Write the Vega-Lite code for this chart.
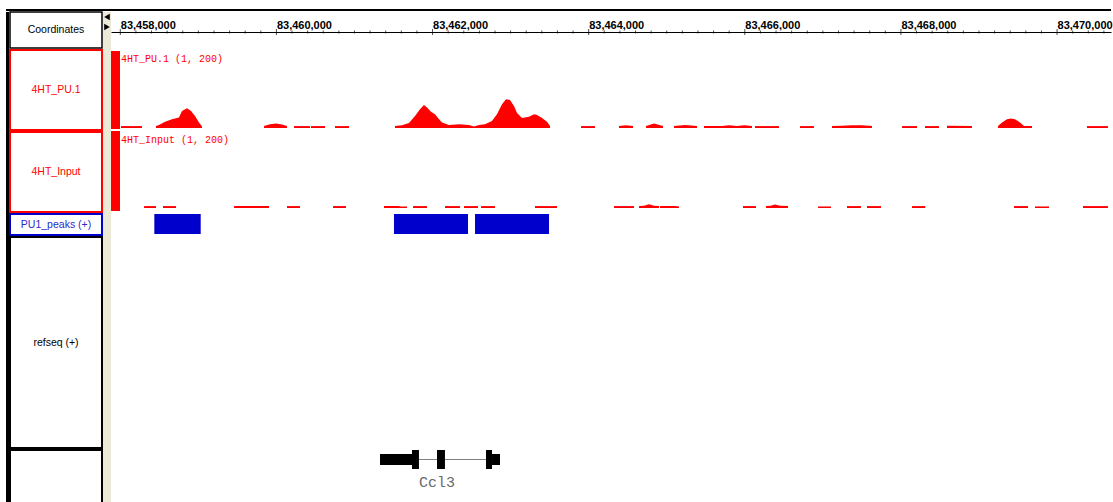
{
  "$schema": "https://vega.github.io/schema/vega-lite/v6.json",
  "background": "white",
  "padding": {"left": 6, "top": 9, "right": 2, "bottom": 0},
  "spacing": 0,
  "config": {"view": {"stroke": null}, "concat": {"spacing": 0}},
  "vconcat": [
    {"width": 1105, "height": 2, "view": {"fill": "black"}, "data": {"values": []}, "mark": "rect", "encoding": {}},
    {
      "spacing": 0,
      "hconcat": [
        {"width": 3, "height": 491, "view": {"fill": "black"}, "data": {"values": []}, "mark": "rect", "encoding": {}},
        {
          "spacing": 2,
          "bounds": "flush",
          "vconcat": [
            {"width": 92, "height": 36, "view": {"stroke": "black", "strokeWidth": 1.5}, "data": {"values": [{"t": "Coordinates"}]}, "mark": {"type": "text", "font": "Liberation Sans", "fontSize": 10.5, "color": "#000000"}, "encoding": {"text": {"field": "t"}}},
            {"width": 92, "height": 80, "view": {"stroke": "#FF0000", "strokeWidth": 2}, "data": {"values": [{"t": "4HT_PU.1"}]}, "mark": {"type": "text", "font": "Liberation Sans", "fontSize": 10.5, "color": "#FF0000"}, "encoding": {"text": {"field": "t"}}},
            {"width": 92, "height": 80, "view": {"stroke": "#FF0000", "strokeWidth": 2}, "data": {"values": [{"t": "4HT_Input"}]}, "mark": {"type": "text", "font": "Liberation Sans", "fontSize": 10.5, "color": "#FF0000"}, "encoding": {"text": {"field": "t"}}},
            {"width": 92, "height": 21, "view": {"stroke": "#0000CC", "strokeWidth": 2}, "data": {"values": [{"t": "PU1_peaks (+)"}]}, "mark": {"type": "text", "font": "Liberation Sans", "fontSize": 10.5, "color": "#2B2BCC"}, "encoding": {"text": {"field": "t"}}},
            {"width": 92, "height": 211, "view": {"stroke": "black", "strokeWidth": 2}, "data": {"values": [{"t": "refseq (+)"}]}, "mark": {"type": "text", "font": "Liberation Sans", "fontSize": 10.5, "color": "#000000"}, "encoding": {"text": {"field": "t"}}},
            {"width": 92, "height": 53, "view": {"stroke": "black", "strokeWidth": 2}, "data": {"values": []}, "mark": "rect", "encoding": {}}
          ]
        },
        {
          "spacing": 0,
          "bounds": "flush",
          "vconcat": [
            {
              "width": 8, "height": 20,
              "view": {"fill": "#ECE9D8"},
              "data": {"values": [{"d": "l"}, {"d": "r"}]},
              "mark": {"type": "point", "filled": true, "color": "black", "size": 42, "opacity": 1},
              "encoding": {
                "y": {"field": "d", "type": "nominal", "scale": {"type": "point", "padding": 0.5}, "axis": null},
                "shape": {"field": "d", "type": "nominal", "scale": {"domain": ["l", "r"], "range": ["triangle-left", "triangle-right"]}, "legend": null}
              }
            },
            {"width": 8, "height": 471, "view": {"fill": "#ECE9D8"}, "data": {"values": []}, "mark": "rect", "encoding": {}}
          ]
        },
        {
          "spacing": 2,
          "vconcat": [
            {
              "width": 1000, "height": 37,
              "data": {"values": [
                {"pos": 83458000, "major": true}, {"pos": 83458200}, {"pos": 83458400}, {"pos": 83458600}, {"pos": 83458800}, {"pos": 83459000}, {"pos": 83459200}, {"pos": 83459400}, {"pos": 83459600}, {"pos": 83459800},
                {"pos": 83460000, "major": true}, {"pos": 83460200}, {"pos": 83460400}, {"pos": 83460600}, {"pos": 83460800}, {"pos": 83461000}, {"pos": 83461200}, {"pos": 83461400}, {"pos": 83461600}, {"pos": 83461800},
                {"pos": 83462000, "major": true}, {"pos": 83462200}, {"pos": 83462400}, {"pos": 83462600}, {"pos": 83462800}, {"pos": 83463000}, {"pos": 83463200}, {"pos": 83463400}, {"pos": 83463600}, {"pos": 83463800},
                {"pos": 83464000, "major": true}, {"pos": 83464200}, {"pos": 83464400}, {"pos": 83464600}, {"pos": 83464800}, {"pos": 83465000}, {"pos": 83465200}, {"pos": 83465400}, {"pos": 83465600}, {"pos": 83465800},
                {"pos": 83466000, "major": true}, {"pos": 83466200}, {"pos": 83466400}, {"pos": 83466600}, {"pos": 83466800}, {"pos": 83467000}, {"pos": 83467200}, {"pos": 83467400}, {"pos": 83467600}, {"pos": 83467800},
                {"pos": 83468000, "major": true}, {"pos": 83468200}, {"pos": 83468400}, {"pos": 83468600}, {"pos": 83468800}, {"pos": 83469000}, {"pos": 83469200}, {"pos": 83469400}, {"pos": 83469600}, {"pos": 83469800},
                {"pos": 83470000, "major": true}, {"pos": 83470200}, {"pos": 83470400}, {"pos": 83470600}
              ]},
              "mark": {"type": "tick", "color": "black", "thickness": 1, "yOffset": 1.5},
              "encoding": {
                "x": {"field": "pos", "type": "quantitative", "scale": {"domain": [83457881, 83470691], "nice": false, "zero": false},
                  "axis": {"orient": "top", "offset": -20, "values": [83458000, 83460000, 83462000, 83464000, 83466000, 83468000, 83470000], "format": ",d", "title": null, "grid": false, "ticks": false, "tickSize": 0, "domain": true, "domainColor": "black", "domainWidth": 1, "labelAlign": "left", "labelBaseline": "alphabetic", "labelPadding": 4, "labelFont": "Liberation Sans", "labelFontSize": 11, "labelFontWeight": "bold", "labelColor": "black", "labelOverlap": false, "labelFlush": false, "labelBound": false}},
                "size": {"condition": {"test": "datum.major", "value": 6}, "value": 3}
              }
            },
            {
              "spacing": 0,
              "bounds": "flush",
              "hconcat": [
                {"width": 9, "height": 78, "view": {"fill": "#FF0000"}, "data": {"values": []}, "mark": "rect", "encoding": {}},
                {
                  "width": 991, "height": 77,
                  "layer": [
                    {
                      "data": {"values": [
                        {"s": "a", "p": 83458009, "v": 5}, {"s": "a", "p": 83458278, "v": 5},
                        {"s": "b", "p": 83458457, "v": 5}, {"s": "b", "p": 83458496, "v": 8}, {"s": "b", "p": 83458573, "v": 16}, {"s": "b", "p": 83458662, "v": 23}, {"s": "b", "p": 83458752, "v": 27}, {"s": "b", "p": 83458790, "v": 44}, {"s": "b", "p": 83458854, "v": 51}, {"s": "b", "p": 83458906, "v": 44}, {"s": "b", "p": 83458957, "v": 31}, {"s": "b", "p": 83459008, "v": 14}, {"s": "b", "p": 83459047, "v": 4},
                        {"s": "c", "p": 83459841, "v": 5}, {"s": "c", "p": 83459918, "v": 10}, {"s": "c", "p": 83459995, "v": 12}, {"s": "c", "p": 83460071, "v": 9}, {"s": "c", "p": 83460135, "v": 5},
                        {"s": "d", "p": 83460225, "v": 5}, {"s": "d", "p": 83460430, "v": 5},
                        {"s": "e", "p": 83460443, "v": 5}, {"s": "e", "p": 83460622, "v": 5},
                        {"s": "f", "p": 83460750, "v": 5}, {"s": "f", "p": 83460930, "v": 5},
                        {"s": "g", "p": 83461519, "v": 5}, {"s": "g", "p": 83461609, "v": 7}, {"s": "g", "p": 83461698, "v": 13}, {"s": "g", "p": 83461775, "v": 31}, {"s": "g", "p": 83461839, "v": 49}, {"s": "g", "p": 83461890, "v": 60}, {"s": "g", "p": 83461929, "v": 53}, {"s": "g", "p": 83461980, "v": 42}, {"s": "g", "p": 83462031, "v": 36}, {"s": "g", "p": 83462083, "v": 23}, {"s": "g", "p": 83462121, "v": 14}, {"s": "g", "p": 83462211, "v": 8}, {"s": "g", "p": 83462339, "v": 10}, {"s": "g", "p": 83462467, "v": 8}, {"s": "g", "p": 83462531, "v": 4}, {"s": "g", "p": 83462595, "v": 8}, {"s": "g", "p": 83462672, "v": 10}, {"s": "g", "p": 83462761, "v": 18}, {"s": "g", "p": 83462825, "v": 36}, {"s": "g", "p": 83462890, "v": 62}, {"s": "g", "p": 83462941, "v": 75}, {"s": "g", "p": 83462992, "v": 73}, {"s": "g", "p": 83463043, "v": 57}, {"s": "g", "p": 83463082, "v": 39}, {"s": "g", "p": 83463146, "v": 26}, {"s": "g", "p": 83463235, "v": 29}, {"s": "g", "p": 83463300, "v": 36}, {"s": "g", "p": 83463338, "v": 34}, {"s": "g", "p": 83463402, "v": 26}, {"s": "g", "p": 83463466, "v": 16}, {"s": "g", "p": 83463505, "v": 5},
                        {"s": "h", "p": 83463902, "v": 5}, {"s": "h", "p": 83464081, "v": 5},
                        {"s": "i", "p": 83464388, "v": 5}, {"s": "i", "p": 83464478, "v": 7}, {"s": "i", "p": 83464568, "v": 5},
                        {"s": "j", "p": 83464734, "v": 5}, {"s": "j", "p": 83464837, "v": 12}, {"s": "j", "p": 83464952, "v": 5},
                        {"s": "k", "p": 83465093, "v": 5}, {"s": "k", "p": 83465234, "v": 8}, {"s": "k", "p": 83465388, "v": 5},
                        {"s": "l", "p": 83465477, "v": 5}, {"s": "l", "p": 83465708, "v": 5}, {"s": "l", "p": 83465800, "v": 7}, {"s": "l", "p": 83465900, "v": 5}, {"s": "l", "p": 83466000, "v": 7}, {"s": "l", "p": 83466092, "v": 5},
                        {"s": "m", "p": 83466130, "v": 5}, {"s": "m", "p": 83466438, "v": 5},
                        {"s": "n", "p": 83466707, "v": 5}, {"s": "n", "p": 83466886, "v": 5},
                        {"s": "o", "p": 83467117, "v": 5}, {"s": "o", "p": 83467245, "v": 6}, {"s": "o", "p": 83467373, "v": 7}, {"s": "o", "p": 83467501, "v": 7}, {"s": "o", "p": 83467629, "v": 5},
                        {"s": "p", "p": 83468014, "v": 5}, {"s": "p", "p": 83468206, "v": 5},
                        {"s": "q", "p": 83468308, "v": 5}, {"s": "q", "p": 83468488, "v": 5},
                        {"s": "r", "p": 83468590, "v": 6}, {"s": "r", "p": 83468910, "v": 5},
                        {"s": "t", "p": 83469243, "v": 5}, {"s": "t", "p": 83469295, "v": 14}, {"s": "t", "p": 83469359, "v": 23}, {"s": "t", "p": 83469410, "v": 25}, {"s": "t", "p": 83469461, "v": 23}, {"s": "t", "p": 83469525, "v": 14}, {"s": "t", "p": 83469577, "v": 5}, {"s": "t", "p": 83469679, "v": 5},
                        {"s": "u", "p": 83470383, "v": 5}, {"s": "u", "p": 83470652, "v": 5}
                      ]},
                      "mark": {"type": "area", "color": "#FF0000", "interpolate": "linear", "clip": true},
                      "encoding": {
                        "x": {"field": "p", "type": "quantitative", "scale": {"domain": [83457996, 83470691], "nice": false, "zero": false}, "axis": null},
                        "y": {"field": "v", "type": "quantitative", "stack": null, "scale": {"domain": [0, 200], "nice": false}, "axis": null},
                        "detail": {"field": "s"}
                      }
                    },
                    {
                      "data": {"values": [{"title": "4HT_PU.1 (1, 200)"}]},
                      "mark": {"type": "text", "align": "left", "baseline": "top", "font": "Liberation Mono", "fontSize": 10, "color": "#FF0000", "dy": 3},
                      "encoding": {
                        "x": {"datum": 83458010, "type": "quantitative"},
                        "y": {"datum": 200, "type": "quantitative"},
                        "text": {"field": "title"}
                      }
                    }
                  ]
                }
              ]
            },
            {
              "spacing": 0,
              "bounds": "flush",
              "hconcat": [
                {"width": 9, "height": 80, "view": {"fill": "#FF0000"}, "data": {"values": []}, "mark": "rect", "encoding": {}},
                {
                  "width": 991, "height": 77,
                  "layer": [
                    {
                      "data": {"values": [
                        {"s": "i01", "p": 83458304, "v": 5}, {"s": "i01", "p": 83458457, "v": 5},
                        {"s": "i02", "p": 83458547, "v": 5}, {"s": "i02", "p": 83458714, "v": 5},
                        {"s": "i03", "p": 83459457, "v": 5}, {"s": "i03", "p": 83459905, "v": 5},
                        {"s": "i04", "p": 83460135, "v": 5}, {"s": "i04", "p": 83460302, "v": 5},
                        {"s": "i05", "p": 83460725, "v": 5}, {"s": "i05", "p": 83460891, "v": 5},
                        {"s": "i06", "p": 83461378, "v": 5}, {"s": "i06", "p": 83461557, "v": 5}, {"s": "i06", "p": 83461600, "v": 4}, {"s": "i06", "p": 83461673, "v": 4},
                        {"s": "i07", "p": 83461750, "v": 5}, {"s": "i07", "p": 83461929, "v": 5},
                        {"s": "i08", "p": 83462159, "v": 5}, {"s": "i08", "p": 83462352, "v": 5},
                        {"s": "i09", "p": 83462403, "v": 5}, {"s": "i09", "p": 83462582, "v": 5},
                        {"s": "i10", "p": 83462621, "v": 5}, {"s": "i10", "p": 83462800, "v": 5},
                        {"s": "i11", "p": 83463312, "v": 5}, {"s": "i11", "p": 83463594, "v": 5},
                        {"s": "i12", "p": 83464324, "v": 5}, {"s": "i12", "p": 83464581, "v": 5},
                        {"s": "i13", "p": 83464645, "v": 5}, {"s": "i13", "p": 83464709, "v": 6}, {"s": "i13", "p": 83464773, "v": 10}, {"s": "i13", "p": 83464837, "v": 6}, {"s": "i13", "p": 83464901, "v": 5},
                        {"s": "i14", "p": 83464914, "v": 5}, {"s": "i14", "p": 83465100, "v": 5}, {"s": "i14", "p": 83465157, "v": 4},
                        {"s": "i15", "p": 83465977, "v": 5}, {"s": "i15", "p": 83466143, "v": 5},
                        {"s": "i16", "p": 83466271, "v": 5}, {"s": "i16", "p": 83466330, "v": 6}, {"s": "i16", "p": 83466387, "v": 9}, {"s": "i16", "p": 83466450, "v": 6}, {"s": "i16", "p": 83466553, "v": 5},
                        {"s": "i17", "p": 83466938, "v": 4}, {"s": "i17", "p": 83467104, "v": 4},
                        {"s": "i18", "p": 83467309, "v": 5}, {"s": "i18", "p": 83467488, "v": 5},
                        {"s": "i19", "p": 83467565, "v": 5}, {"s": "i19", "p": 83467745, "v": 5},
                        {"s": "i20", "p": 83468142, "v": 5}, {"s": "i20", "p": 83468312, "v": 5},
                        {"s": "i21", "p": 83469448, "v": 5}, {"s": "i21", "p": 83469628, "v": 5},
                        {"s": "i22", "p": 83469717, "v": 4}, {"s": "i22", "p": 83469897, "v": 4},
                        {"s": "i23", "p": 83470332, "v": 5}, {"s": "i23", "p": 83470652, "v": 5}
                      ]},
                      "mark": {"type": "area", "color": "#FF0000", "interpolate": "linear", "clip": true},
                      "encoding": {
                        "x": {"field": "p", "type": "quantitative", "scale": {"domain": [83457996, 83470691], "nice": false, "zero": false}, "axis": null},
                        "y": {"field": "v", "type": "quantitative", "stack": null, "scale": {"domain": [0, 200], "nice": false}, "axis": null},
                        "detail": {"field": "s"}
                      }
                    },
                    {
                      "data": {"values": [{"title": "4HT_Input (1, 200)"}]},
                      "mark": {"type": "text", "align": "left", "baseline": "top", "font": "Liberation Mono", "fontSize": 10, "color": "#FF0000", "dy": 4},
                      "encoding": {
                        "x": {"datum": 83458010, "type": "quantitative"},
                        "y": {"datum": 200, "type": "quantitative"},
                        "text": {"field": "title"}
                      }
                    }
                  ]
                }
              ]
            },
            {
              "width": 1000, "height": 22,
              "data": {"values": [
                {"track": "PU1_peaks", "start": 83458436, "end": 83459030},
                {"track": "PU1_peaks", "start": 83461506, "end": 83462454},
                {"track": "PU1_peaks", "start": 83462544, "end": 83463492}
              ]},
              "mark": {"type": "bar", "color": "#0000CC"},
              "encoding": {
                "x": {"field": "start", "type": "quantitative", "scale": {"domain": [83457881, 83470691], "nice": false, "zero": false}, "axis": null},
                "x2": {"field": "end"},
                "y": {"field": "track", "type": "nominal", "scale": {"paddingOuter": 0.05, "paddingInner": 0}, "axis": null}
              }
            },
            {
              "width": 1000, "height": 266,
              "layer": [
                {
                  "data": {"values": [{"gene": "Ccl3", "start": 83461327, "end": 83462864}]},
                  "mark": {"type": "rule", "color": "#808080", "strokeWidth": 1},
                  "encoding": {
                    "x": {"field": "start", "type": "quantitative", "scale": {"domain": [83457881, 83470691], "nice": false, "zero": false}, "axis": null},
                    "x2": {"field": "end"},
                    "y": {"field": "gene", "type": "nominal", "scale": {"type": "point", "padding": 0, "align": 0.8365}, "axis": null}
                  }
                },
                {
                  "data": {"values": [
                    {"gene": "Ccl3", "start": 83461327, "end": 83461737},
                    {"gene": "Ccl3", "start": 83462762, "end": 83462864}
                  ]},
                  "mark": {"type": "bar", "color": "black", "height": 11},
                  "encoding": {
                    "x": {"field": "start", "type": "quantitative"},
                    "x2": {"field": "end"},
                    "y": {"field": "gene", "type": "nominal"}
                  }
                },
                {
                  "data": {"values": [
                    {"gene": "Ccl3", "start": 83461737, "end": 83461826},
                    {"gene": "Ccl3", "start": 83462057, "end": 83462159},
                    {"gene": "Ccl3", "start": 83462685, "end": 83462762}
                  ]},
                  "mark": {"type": "bar", "color": "black", "height": 19},
                  "encoding": {
                    "x": {"field": "start", "type": "quantitative"},
                    "x2": {"field": "end"},
                    "y": {"field": "gene", "type": "nominal"}
                  }
                },
                {
                  "data": {"values": [{"gene": "Ccl3", "start": 83461327, "end": 83462864}]},
                  "mark": {"type": "text", "font": "Liberation Mono", "fontSize": 15, "color": "#6A6A6A", "align": "left", "baseline": "middle", "dx": 39, "dy": 22},
                  "encoding": {
                    "x": {"field": "start", "type": "quantitative"},
                    "y": {"field": "gene", "type": "nominal"},
                    "text": {"field": "gene"}
                  }
                }
              ]
            }
          ]
        },
        {"width": 2, "height": 491, "view": {"fill": "black"}, "data": {"values": []}, "mark": "rect", "encoding": {}}
      ]
    }
  ]
}
